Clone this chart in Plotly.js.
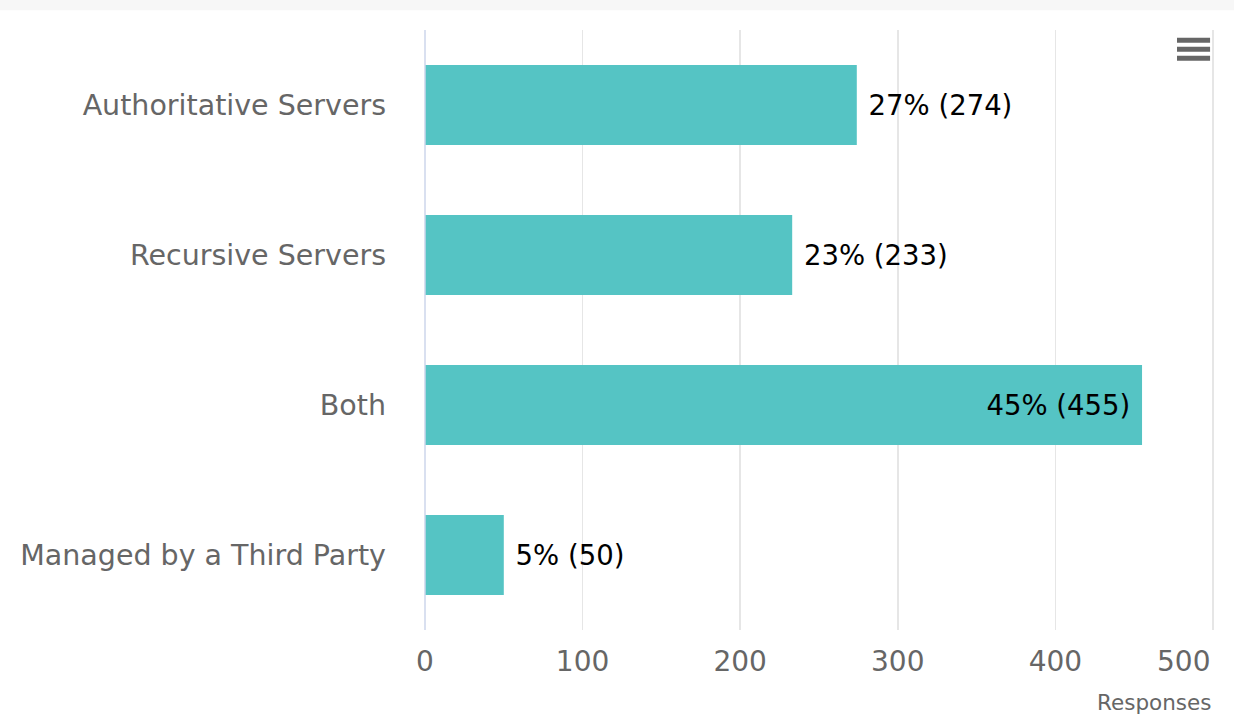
<!DOCTYPE html>
<html>
<head>
<meta charset="utf-8">
<script src="https://cdn.plot.ly/plotly-3.0.1.min.js"></script>
<style>html,body{margin:0;padding:0;background:#fff;}#chart{width:1234px;height:716px;}</style>
</head>
<body>
<div id="chart"></div>
<script>
const categories = ["Authoritative Servers", "Recursive Servers", "Both", "Managed by a Third Party"];
const responses = [274, 233, 455, 50];
const percents = [27, 23, 45, 5];
const labelPositions = ["outside", "outside", "inside", "outside"];
const xTicks = [0, 100, 200, 300, 400, 500];

const lastTick = xTicks[xTicks.length - 1];
// last tick label is drawn right-aligned to stay inside the chart (as in the reference)
const xTickText = xTicks.map((t, i) => i === xTicks.length - 1 ? "" : String(t));

const labels = responses.map((v, i) => labelPositions[i] === "inside"
  ? percents[i] + "% (" + v + ")\u00a0"
  : "\u00a0" + percents[i] + "% (" + v + ")");

const labelFont = {family: "DejaVu Sans, sans-serif", size: 27.5, color: "#000"};

const trace = {
  type: "bar",
  orientation: "h",
  y: categories,
  x: responses,
  text: labels,
  textposition: labelPositions,
  insidetextanchor: "end",
  textfont: labelFont,
  outsidetextfont: labelFont,
  insidetextfont: labelFont,
  constraintext: "none",
  marker: {color: "#55C4C4"},
  cliponaxis: false,
  hoverinfo: "none"
};

const layout = {
  width: 1234, height: 716,
  margin: {l: 425, r: 16, t: 30, b: 86},
  paper_bgcolor: "#fff", plot_bgcolor: "#fff",
  showlegend: false,
  bargap: 0.467,
  font: {family: "DejaVu Sans, sans-serif", color: "#666"},
  xaxis: {
    range: [0, 503.2], tickvals: xTicks, ticktext: xTickText,
    showgrid: true, gridcolor: "#e6e6e6", gridwidth: 1.5,
    zeroline: false, showline: false, ticks: "",
    tickfont: {size: 28, color: "#666"}, ticklabelstandoff: 12
  },
  yaxis: {
    autorange: "reversed", showgrid: false, zeroline: false,
    showline: false, ticks: "", ticklabelstandoff: 38,
    tickfont: {size: 28.5, color: "#666"}
  },
  shapes: [
    {type: "line", xref: "paper", yref: "paper", x0: 0, x1: 0, y0: 0, y1: 1, line: {color: "#ccd6eb", width: 1.5}},
    {type: "rect", xref: "paper", yref: "paper", x0: -0.54, x1: 1.03, y0: 1.033, y1: 1.05, fillcolor: "#f7f7f7", line: {width: 0}, layer: "below"},
    {type: "line", xref: "paper", yref: "paper", x0: 0.9483, x1: 0.99, y0: 0.983, y1: 0.983, line: {color: "#666", width: 5}},
    {type: "line", xref: "paper", yref: "paper", x0: 0.9483, x1: 0.99, y0: 0.968, y1: 0.968, line: {color: "#666", width: 5}},
    {type: "line", xref: "paper", yref: "paper", x0: 0.9483, x1: 0.99, y0: 0.953, y1: 0.953, line: {color: "#666", width: 5}}
  ],
  annotations: [
    {text: String(lastTick), xref: "x", yref: "paper", x: lastTick, y: -0.052, xanchor: "right", yanchor: "middle",
     xshift: -1, showarrow: false, font: {size: 28, color: "#666"}},
    {text: "Responses", xref: "paper", yref: "paper", x: 0.9937, y: -0.12, xanchor: "right", yanchor: "middle",
     showarrow: false, font: {size: 21.5, color: "#666"}}
  ]
};

Plotly.newPlot("chart", [trace], layout, {displayModeBar: false, staticPlot: true});
</script>
</body>
</html>
